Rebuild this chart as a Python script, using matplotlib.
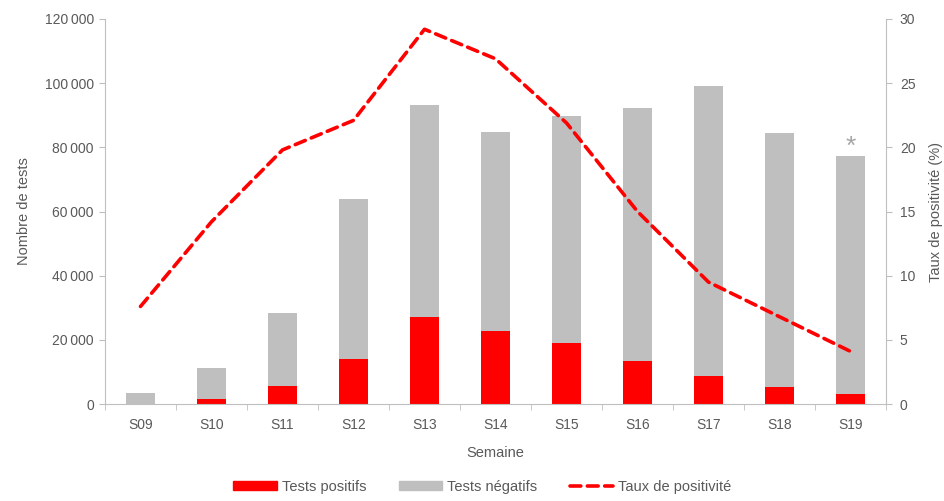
import numpy as np
import matplotlib
matplotlib.use("Agg")
import matplotlib.pyplot as plt
from matplotlib.ticker import FuncFormatter
from matplotlib.patches import Patch
from matplotlib.lines import Line2D

plt.rcParams['font.family'] = ['Liberation Sans', 'DejaVu Sans']

semaines = ['S09', 'S10', 'S11', 'S12', 'S13', 'S14', 'S15', 'S16', 'S17', 'S18', 'S19']
total = [3300, 11100, 28300, 63800, 93100, 84900, 89800, 92400, 99100, 84400, 77400]
positifs = [0, 1600, 5600, 13900, 27100, 22800, 19100, 13400, 8700, 5400, 3100]
taux = [7.6, 14.2, 19.8, 22.1, 29.2, 26.9, 21.9, 15.0, 9.5, 6.8, 4.1]
negatifs = [t - p for t, p in zip(total, positifs)]

txt = '#595959'
axc = '#BFBFBF'
red = '#FF0000'
grey = '#BFBFBF'

fig = plt.figure(figsize=(9.44, 5.01), dpi=100)
ax = fig.add_axes([105/944, 97/501, 781/944, 385/501])
x = np.arange(len(semaines))

ax.bar(x, positifs, width=0.4, color=red, zorder=2)
ax.bar(x, negatifs, width=0.4, bottom=positifs, color=grey, zorder=2)
# asterisk above the last week (incomplete data)
ax.text(x[-1], total[-1] + 700, '*', ha='center', va='baseline', color='#A6A6A6', fontsize=19)

ax.set_xlim(-0.5, len(semaines) - 0.5)
ax.set_ylim(0, 120000)
ax.set_yticks(np.arange(0, 120001, 20000))
ax.yaxis.set_major_formatter(FuncFormatter(lambda v, p: f'{int(v):,}'.replace(',', '\u2009') if v else '0'))
ax.set_xticks(x)
ax.set_xticklabels(semaines)
ax.set_xticks(np.arange(-0.5, len(semaines)), minor=True)
ax.tick_params(axis='x', which='major', length=0, pad=10, colors=txt, labelsize=10)
ax.tick_params(axis='x', which='minor', length=4, color=axc, direction='out')
ax.tick_params(axis='y', length=4, color=axc, colors=txt, labelsize=10, pad=4)
for s in ['top', 'right']:
    ax.spines[s].set_visible(False)
for s in ['left', 'bottom']:
    ax.spines[s].set_color(axc)
ax.set_xlabel('Semaine', color=txt, fontsize=10.5, labelpad=10)
ax.set_ylabel('Nombre de tests', color=txt, fontsize=10.5, labelpad=10)

ax2 = ax.twinx()
ax2.plot(x, taux, color=red, lw=2.6, ls=(0, (3, 1.8)), dash_capstyle='round', zorder=3)
ax2.set_ylim(0, 30)
ax2.set_yticks(np.arange(0, 31, 5))
ax2.tick_params(axis='y', length=4, color=axc, colors=txt, labelsize=10, pad=6)
for s in ['top', 'left', 'bottom']:
    ax2.spines[s].set_visible(False)
ax2.spines['right'].set_color(axc)
ax2.set_ylabel('Taux de positivité (%)', color=txt, fontsize=10.5, labelpad=10)

handles = [Patch(color=red), Patch(color=grey),
           Line2D([0], [0], color=red, lw=2.6, ls=(0, (3, 1.8)), dash_capstyle='round')]
labels = ['Tests positifs', 'Tests négatifs', 'Taux de positivité']
fig.legend(handles, labels, loc='lower center', bbox_to_anchor=(0.511, -0.012), ncol=3,
           frameon=False, fontsize=10.5, labelcolor=txt, handlelength=3.0, handleheight=0.6,
           columnspacing=2.2, handletextpad=0.35)

fig.savefig('out.png', dpi=100)
